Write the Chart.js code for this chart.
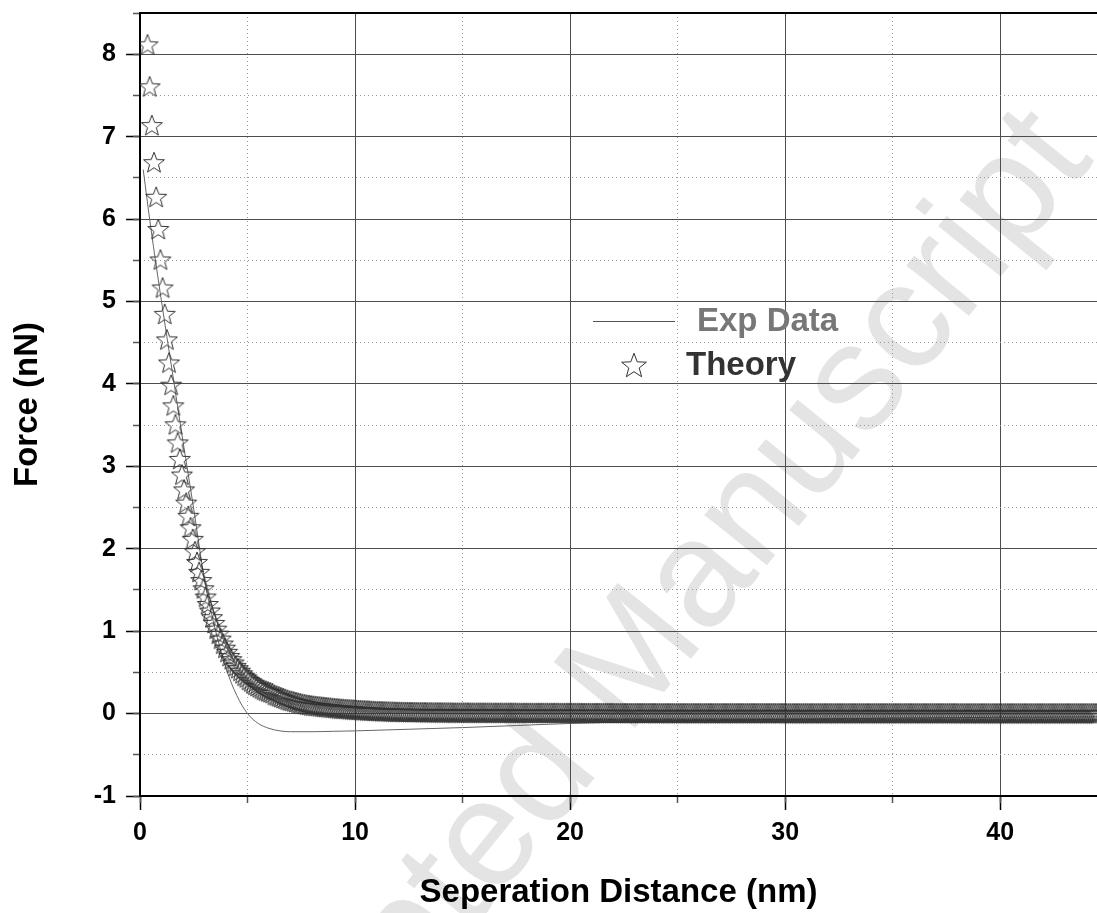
<!DOCTYPE html>
<html>
<head>
<meta charset="utf-8">
<script src="https://cdn.jsdelivr.net/npm/chart.js@4.4.1/dist/chart.umd.min.js"></script>
<style>
    html, body { margin: 0; padding: 0; background: #fff; }
    #caja { width: 1097px; height: 913px; position: relative; }
</style>
</head>
<body>
<div id="caja"><canvas id="grafica"></canvas></div>
<script>
//1. Datos
// Curva teórica (estrellas): tramo curvo
const teoriaX = [
    0.35, 0.45, 0.55, 0.65, 0.75, 0.85, 0.95, 1.05, 1.15, 1.25,
    1.35, 1.45, 1.55, 1.65, 1.75, 1.85, 1.95, 2.05, 2.15, 2.25,
    2.35, 2.45, 2.55, 2.65, 2.75, 2.85, 2.95, 3.05, 3.15, 3.25,
    3.35, 3.45, 3.55, 3.65, 3.75, 3.85, 3.95, 4.05, 4.15, 4.25,
    4.35, 4.45, 4.55, 4.65, 4.75, 4.85, 4.95, 5.05, 5.15, 5.25,
    5.35, 5.45, 5.55, 5.65, 5.75, 5.85, 5.95, 6.05, 6.15, 6.25,
    6.35, 6.45, 6.55, 6.65, 6.75, 6.85, 6.95, 7.05, 7.15, 7.25,
    7.35, 7.45, 7.55, 7.65, 7.75, 7.85, 7.95
];
const teoriaY = [
    8.12, 7.61, 7.14, 6.69, 6.27, 5.88, 5.51, 5.17, 4.85, 4.54,
    4.26, 3.99, 3.74, 3.51, 3.29, 3.09, 2.90, 2.72, 2.56, 2.40,
    2.26, 2.12, 1.97, 1.84, 1.72, 1.62, 1.52, 1.42, 1.33, 1.25,
    1.17, 1.10, 1.03, 0.97, 0.91, 0.85, 0.80, 0.75, 0.70, 0.66,
    0.62, 0.58, 0.55, 0.52, 0.49, 0.46, 0.44, 0.41, 0.39, 0.37,
    0.35, 0.335, 0.32, 0.305, 0.29, 0.28, 0.27, 0.26, 0.25, 0.23,
    0.22, 0.21, 0.20, 0.19, 0.18, 0.17, 0.16, 0.155, 0.148, 0.14,
    0.133, 0.127, 0.12, 0.115, 0.11, 0.105, 0.10
];
// Curva teórica: cola casi plana
const colaX = [
    8.05, 8.15, 8.25, 8.35, 8.45, 8.55, 8.65, 8.75, 8.85, 8.95,
    9.05, 9.15, 9.25, 9.35, 9.45, 9.55, 9.65, 9.75, 9.85, 9.95,
    10.05, 10.15, 10.25, 10.35, 10.45, 10.55, 10.65, 10.75, 10.85, 10.95,
    11.05, 11.15, 11.25, 11.35, 11.45, 11.55, 11.65, 11.75, 11.85, 11.95,
    12.05, 12.15, 12.25, 12.35, 12.45, 12.55, 12.65, 12.75, 12.85, 12.95,
    13.05, 13.15, 13.25, 13.35, 13.45, 13.55, 13.65, 13.75, 13.85, 13.95,
    14.05, 14.15, 14.25, 14.35, 14.45, 14.55, 14.65, 14.75, 14.85, 14.95,
    15.05, 15.15, 15.25, 15.35, 15.45, 15.55, 15.65, 15.75, 15.85, 15.95,
    16.05, 16.15, 16.25, 16.35, 16.45, 16.55, 16.65, 16.75, 16.85, 16.95,
    17.05, 17.15, 17.25, 17.35, 17.45, 17.55, 17.65, 17.75, 17.85, 17.95,
    18.05, 18.15, 18.25, 18.35, 18.45, 18.55, 18.65, 18.75, 18.85, 18.95,
    19.05, 19.15, 19.25, 19.35, 19.45, 19.55, 19.65, 19.75, 19.85, 19.95,
    20.05, 20.15, 20.25, 20.35, 20.45, 20.55, 20.65, 20.75, 20.85, 20.95,
    21.05, 21.15, 21.25, 21.35, 21.45, 21.55, 21.65, 21.75, 21.85, 21.95,
    22.05, 22.15, 22.25, 22.35, 22.45, 22.55, 22.65, 22.75, 22.85, 22.95,
    23.05, 23.15, 23.25, 23.35, 23.45, 23.55, 23.65, 23.75, 23.85, 23.95,
    24.05, 24.15, 24.25, 24.35, 24.45, 24.55, 24.65, 24.75, 24.85, 24.95,
    25.05, 25.15, 25.25, 25.35, 25.45, 25.55, 25.65, 25.75, 25.85, 25.95,
    26.05, 26.15, 26.25, 26.35, 26.45, 26.55, 26.65, 26.75, 26.85, 26.95,
    27.05, 27.15, 27.25, 27.35, 27.45, 27.55, 27.65, 27.75, 27.85, 27.95,
    28.05, 28.15, 28.25, 28.35, 28.45, 28.55, 28.65, 28.75, 28.85, 28.95,
    29.05, 29.15, 29.25, 29.35, 29.45, 29.55, 29.65, 29.75, 29.85, 29.95,
    30.05, 30.15, 30.25, 30.35, 30.45, 30.55, 30.65, 30.75, 30.85, 30.95,
    31.05, 31.15, 31.25, 31.35, 31.45, 31.55, 31.65, 31.75, 31.85, 31.95,
    32.05, 32.15, 32.25, 32.35, 32.45, 32.55, 32.65, 32.75, 32.85, 32.95,
    33.05, 33.15, 33.25, 33.35, 33.45, 33.55, 33.65, 33.75, 33.85, 33.95,
    34.05, 34.15, 34.25, 34.35, 34.45, 34.55, 34.65, 34.75, 34.85, 34.95,
    35.05, 35.15, 35.25, 35.35, 35.45, 35.55, 35.65, 35.75, 35.85, 35.95,
    36.05, 36.15, 36.25, 36.35, 36.45, 36.55, 36.65, 36.75, 36.85, 36.95,
    37.05, 37.15, 37.25, 37.35, 37.45, 37.55, 37.65, 37.75, 37.85, 37.95,
    38.05, 38.15, 38.25, 38.35, 38.45, 38.55, 38.65, 38.75, 38.85, 38.95,
    39.05, 39.15, 39.25, 39.35, 39.45, 39.55, 39.65, 39.75, 39.85, 39.95,
    40.05, 40.15, 40.25, 40.35, 40.45, 40.55, 40.65, 40.75, 40.85, 40.95,
    41.05, 41.15, 41.25, 41.35, 41.45, 41.55, 41.65, 41.75, 41.85, 41.95,
    42.05, 42.15, 42.25, 42.35, 42.45, 42.55, 42.65, 42.75, 42.85, 42.95,
    43.05, 43.15, 43.25, 43.35, 43.45, 43.55, 43.65, 43.75, 43.85, 43.95,
    44.05, 44.15, 44.25, 44.35, 44.45, 44.55
];
const colaY = [
    0.097, 0.094, 0.091, 0.088, 0.085, 0.082, 0.079, 0.076, 0.073, 0.070,
    0.067, 0.065, 0.062, 0.060, 0.058, 0.056, 0.054, 0.052, 0.050, 0.048,
    0.046, 0.044, 0.043, 0.041, 0.040, 0.038, 0.037, 0.035, 0.034, 0.032,
    0.031, 0.030, 0.029, 0.028, 0.027, 0.026, 0.025, 0.024, 0.023, 0.022,
    0.022, 0.021, 0.021, 0.020, 0.020, 0.019, 0.019, 0.018, 0.018, 0.018,
    0.017, 0.017, 0.017, 0.016, 0.016, 0.016, 0.015, 0.015, 0.015, 0.015,
    0.014, 0.014, 0.014, 0.014, 0.014, 0.013, 0.013, 0.013, 0.013, 0.013,
    0.013, 0.013, 0.013, 0.012, 0.012, 0.012, 0.012, 0.012, 0.012, 0.012,
    0.012, 0.012, 0.012, 0.011, 0.011, 0.011, 0.011, 0.011, 0.011, 0.011,
    0.011, 0.011, 0.011, 0.011, 0.011, 0.010, 0.010, 0.010, 0.010, 0.010,
    0.010, 0.010, 0.010, 0.010, 0.010, 0.010, 0.010, 0.010, 0.010, 0.010,
    0.010, 0.010, 0.010, 0.010, 0.010, 0.009, 0.009, 0.009, 0.009, 0.009,
    0.009, 0.009, 0.009, 0.009, 0.009, 0.008, 0.008, 0.008, 0.008, 0.008,
    0.008, 0.008, 0.008, 0.008, 0.008, 0.008, 0.008, 0.008, 0.008, 0.008,
    0.007, 0.007, 0.007, 0.007, 0.007, 0.007, 0.007, 0.007, 0.007, 0.007,
    0.007, 0.007, 0.007, 0.007, 0.007, 0.007, 0.007, 0.007, 0.007, 0.007,
    0.006, 0.006, 0.006, 0.006, 0.006, 0.006, 0.006, 0.006, 0.006, 0.006,
    0.006, 0.006, 0.006, 0.006, 0.006, 0.006, 0.006, 0.006, 0.006, 0.006,
    0.006, 0.006, 0.006, 0.006, 0.006, 0.006, 0.006, 0.006, 0.006, 0.006,
    0.006, 0.006, 0.006, 0.006, 0.006, 0.006, 0.006, 0.006, 0.006, 0.006,
    0.006, 0.006, 0.006, 0.006, 0.006, 0.006, 0.006, 0.006, 0.006, 0.006,
    0.006, 0.006, 0.006, 0.006, 0.006, 0.006, 0.006, 0.006, 0.006, 0.006,
    0.005, 0.005, 0.005, 0.005, 0.005, 0.005, 0.005, 0.005, 0.005, 0.005,
    0.005, 0.005, 0.005, 0.005, 0.005, 0.005, 0.005, 0.005, 0.005, 0.005,
    0.005, 0.005, 0.005, 0.005, 0.005, 0.005, 0.005, 0.005, 0.005, 0.005,
    0.005, 0.005, 0.005, 0.005, 0.005, 0.005, 0.005, 0.005, 0.005, 0.005,
    0.005, 0.005, 0.005, 0.005, 0.005, 0.005, 0.005, 0.005, 0.005, 0.005,
    0.005, 0.005, 0.005, 0.005, 0.005, 0.005, 0.005, 0.005, 0.005, 0.005,
    0.005, 0.005, 0.005, 0.005, 0.005, 0.005, 0.005, 0.005, 0.005, 0.005,
    0.005, 0.005, 0.005, 0.005, 0.005, 0.005, 0.005, 0.005, 0.005, 0.005,
    0.004, 0.004, 0.004, 0.004, 0.004, 0.004, 0.004, 0.004, 0.004, 0.004,
    0.004, 0.004, 0.004, 0.004, 0.004, 0.004, 0.004, 0.004, 0.004, 0.004,
    0.004, 0.004, 0.004, 0.004, 0.004, 0.004, 0.004, 0.004, 0.004, 0.004,
    0.004, 0.004, 0.004, 0.004, 0.004, 0.004, 0.004, 0.004, 0.004, 0.004,
    0.004, 0.004, 0.004, 0.004, 0.004, 0.004, 0.004, 0.004, 0.004, 0.004,
    0.004, 0.004, 0.004, 0.004, 0.004, 0.004, 0.004, 0.004, 0.004, 0.004,
    0.004, 0.004, 0.004, 0.004, 0.004, 0.004
];
// Datos experimentales (línea gris)
const expX = [0.15, 0.5, 1.0, 1.5, 2.0, 2.5, 3.0, 3.5, 4.0, 4.5, 5.0, 5.5, 6.0, 6.5, 7.0,
    8.0, 9.0, 10.0, 12.5, 15.0, 17.5, 20.0, 25.0, 30.0, 35.0, 40.0, 44.5];
const expY = [6.6, 5.9, 5.0, 4.15, 3.3, 2.48, 1.62, 1.02, 0.55, 0.22, 0.0, -0.12, -0.18, -0.21, -0.22,
    -0.22, -0.215, -0.21, -0.19, -0.17, -0.145, -0.12, -0.09, -0.07, -0.055, -0.045, -0.04];

const etiquetas = ["Exp Data", "Theory"];

const FUENTE = "'Liberation Sans', Arial, sans-serif";

//2. Dibujamos la estrella hueca que usa la serie teórica
function crearEstrella(radio) {
    const lado = Math.ceil(radio * 2 + 4);
    const lienzo = document.createElement("canvas");
    lienzo.width = lado;
    lienzo.height = lado;
    const g = lienzo.getContext("2d");
    const cx = lado / 2;
    const cy = lado / 2 + radio * 0.095;
    g.beginPath();
    for (let i = 0; i < 10; i++) {
        const r = i % 2 === 0 ? radio : radio * 0.42;
        const a = -Math.PI / 2 + i * Math.PI / 5;
        const px = cx + r * Math.cos(a);
        const py = cy + r * Math.sin(a);
        if (i === 0) g.moveTo(px, py); else g.lineTo(px, py);
    }
    g.closePath();
    g.strokeStyle = "#333";
    g.lineWidth = 1;
    g.stroke();
    return lienzo;
}
const estrella = crearEstrella(11);
const estrellaLeyenda = crearEstrella(13);

//3. Plugins: marca de agua y leyenda dentro del gráfico
const marcaAgua = {
    id: "marcaAgua",
    beforeDraw(chart) {
        const ctx = chart.ctx;
        ctx.save();
        ctx.translate(616, 685);
        ctx.rotate(-51 * Math.PI / 180);
        ctx.font = "152px " + FUENTE;
        ctx.fillStyle = "#e4e4e4";
        ctx.textAlign = "center";
        ctx.textBaseline = "middle";
        ctx.fillText("Accepted Manuscript", 0, 0);
        ctx.restore();
    }
};

const leyenda = {
    id: "leyenda",
    afterDraw(chart) {
        const ctx = chart.ctx;
        ctx.save();
        ctx.strokeStyle = "#555";
        ctx.lineWidth = 1;
        ctx.beginPath();
        ctx.moveTo(593, 321.5);
        ctx.lineTo(675, 321.5);
        ctx.stroke();
        ctx.drawImage(estrellaLeyenda, 634 - estrellaLeyenda.width / 2, 365 - estrellaLeyenda.height / 2);
        ctx.font = "bold 33px " + FUENTE;
        ctx.textAlign = "left";
        ctx.textBaseline = "middle";
        ctx.fillStyle = "#777";
        ctx.fillText(etiquetas[0], 697, 322);
        ctx.fillStyle = "#333";
        ctx.fillText(etiquetas[1], 686, 366);
        ctx.restore();
    }
};

// Quitamos el margen extra que Chart.js deja para las etiquetas
function sinMargen(eje) {
    eje.paddingTop = 0;
    eje.paddingBottom = 0;
    eje.paddingLeft = 0;
    eje.paddingRight = 0;
}

//4. Creamos la gráfica
const fuenteTicks = { family: FUENTE, size: 25, weight: "bold" };
const fuenteTitulos = { family: FUENTE, size: 33, weight: "bold" };

new Chart(document.getElementById("grafica"), {
    type: "line",
    data: {
        datasets: [
            {
                label: etiquetas[1],
                data: teoriaX.concat(colaX).map((x, i) => ({ x: x, y: teoriaY.concat(colaY)[i] })),
                showLine: false,
                pointStyle: estrella,
                pointRadius: 11,
                pointHoverRadius: 11,
                clip: 0,
                order: 0
            },
            {
                label: etiquetas[0],
                data: expX.map((x, i) => ({ x: x, y: expY[i] })),
                borderColor: "#666",
                borderWidth: 1,
                pointRadius: 0,
                cubicInterpolationMode: "monotone",
                clip: 0,
                order: 1
            }
        ]
    },
    options: {
        responsive: true,
        maintainAspectRatio: false,
        animation: false,
        events: [],
        layout: { autoPadding: false, padding: { top: 13, right: 0, bottom: 0, left: 0 } },
        plugins: {
            legend: { display: false },
            tooltip: { enabled: false }
        },
        scales: {
            x: {
                type: "linear",
                position: "bottom",
                weight: 1,
                min: 0,
                max: 44.5,
                ticks: {
                    stepSize: 10,
                    includeBounds: false,
                    maxRotation: 0,
                    padding: 8,
                    color: "#000",
                    font: fuenteTicks
                },
                grid: { color: "#4d4d4d", lineWidth: 1, tickLength: 14, tickColor: "#000", tickWidth: 1.5 },
                border: { color: "#000", width: 2 },
                title: {
                    display: true,
                    text: "Seperation Distance (nm)",
                    color: "#000",
                    font: fuenteTitulos,
                    padding: { top: 0, bottom: 0 }
                },
                afterFit: (eje) => { eje.height = 117; sinMargen(eje); }
            },
            x2: {
                type: "linear",
                position: "bottom",
                weight: 0,
                min: 0,
                max: 44.5,
                ticks: { display: false, stepSize: 5, includeBounds: false, maxTicksLimit: 100 },
                grid: {
                    color: (c) => (c.tick && c.tick.value % 10 === 0) ? "rgba(0,0,0,0)" : "#9a9a9a",
                    lineWidth: 1,
                    tickLength: 7,
                    tickColor: "#555",
                    tickWidth: 1.5
                },
                border: { display: false, dash: [1, 3] },
                afterFit: (eje) => { eje.height = 0; sinMargen(eje); }
            },
            xt: {
                type: "linear",
                position: "top",
                min: 0,
                max: 44.5,
                ticks: { display: false },
                grid: { drawOnChartArea: false, drawTicks: false },
                border: { display: true, color: "#000", width: 2 },
                afterFit: (eje) => { eje.height = 0; sinMargen(eje); }
            },
            y: {
                type: "linear",
                position: "left",
                weight: 1,
                min: -1,
                max: 8.5,
                ticks: {
                    stepSize: 1,
                    includeBounds: false,
                    padding: 10,
                    color: "#000",
                    font: fuenteTicks
                },
                grid: { color: "#4d4d4d", lineWidth: 1, tickLength: 14, tickColor: "#000", tickWidth: 1.5 },
                border: { color: "#000", width: 2 },
                title: {
                    display: true,
                    text: "Force (nN)",
                    color: "#000",
                    font: fuenteTitulos,
                    padding: { top: 8, bottom: 0 }
                },
                afterFit: (eje) => { eje.width = 140; sinMargen(eje); }
            },
            y2: {
                type: "linear",
                position: "left",
                weight: 0,
                min: -1,
                max: 8.5,
                ticks: { display: false, stepSize: 0.5, includeBounds: false, maxTicksLimit: 100 },
                grid: {
                    color: (c) => (c.tick && Number.isInteger(c.tick.value)) ? "rgba(0,0,0,0)" : "#9a9a9a",
                    lineWidth: 1,
                    tickLength: 7,
                    tickColor: "#555",
                    tickWidth: 1.5
                },
                border: { display: false, dash: [1, 3] },
                afterFit: (eje) => { eje.width = 0; sinMargen(eje); }
            }
        }
    },
    plugins: [marcaAgua, leyenda]
});
</script>
</body>
</html>
